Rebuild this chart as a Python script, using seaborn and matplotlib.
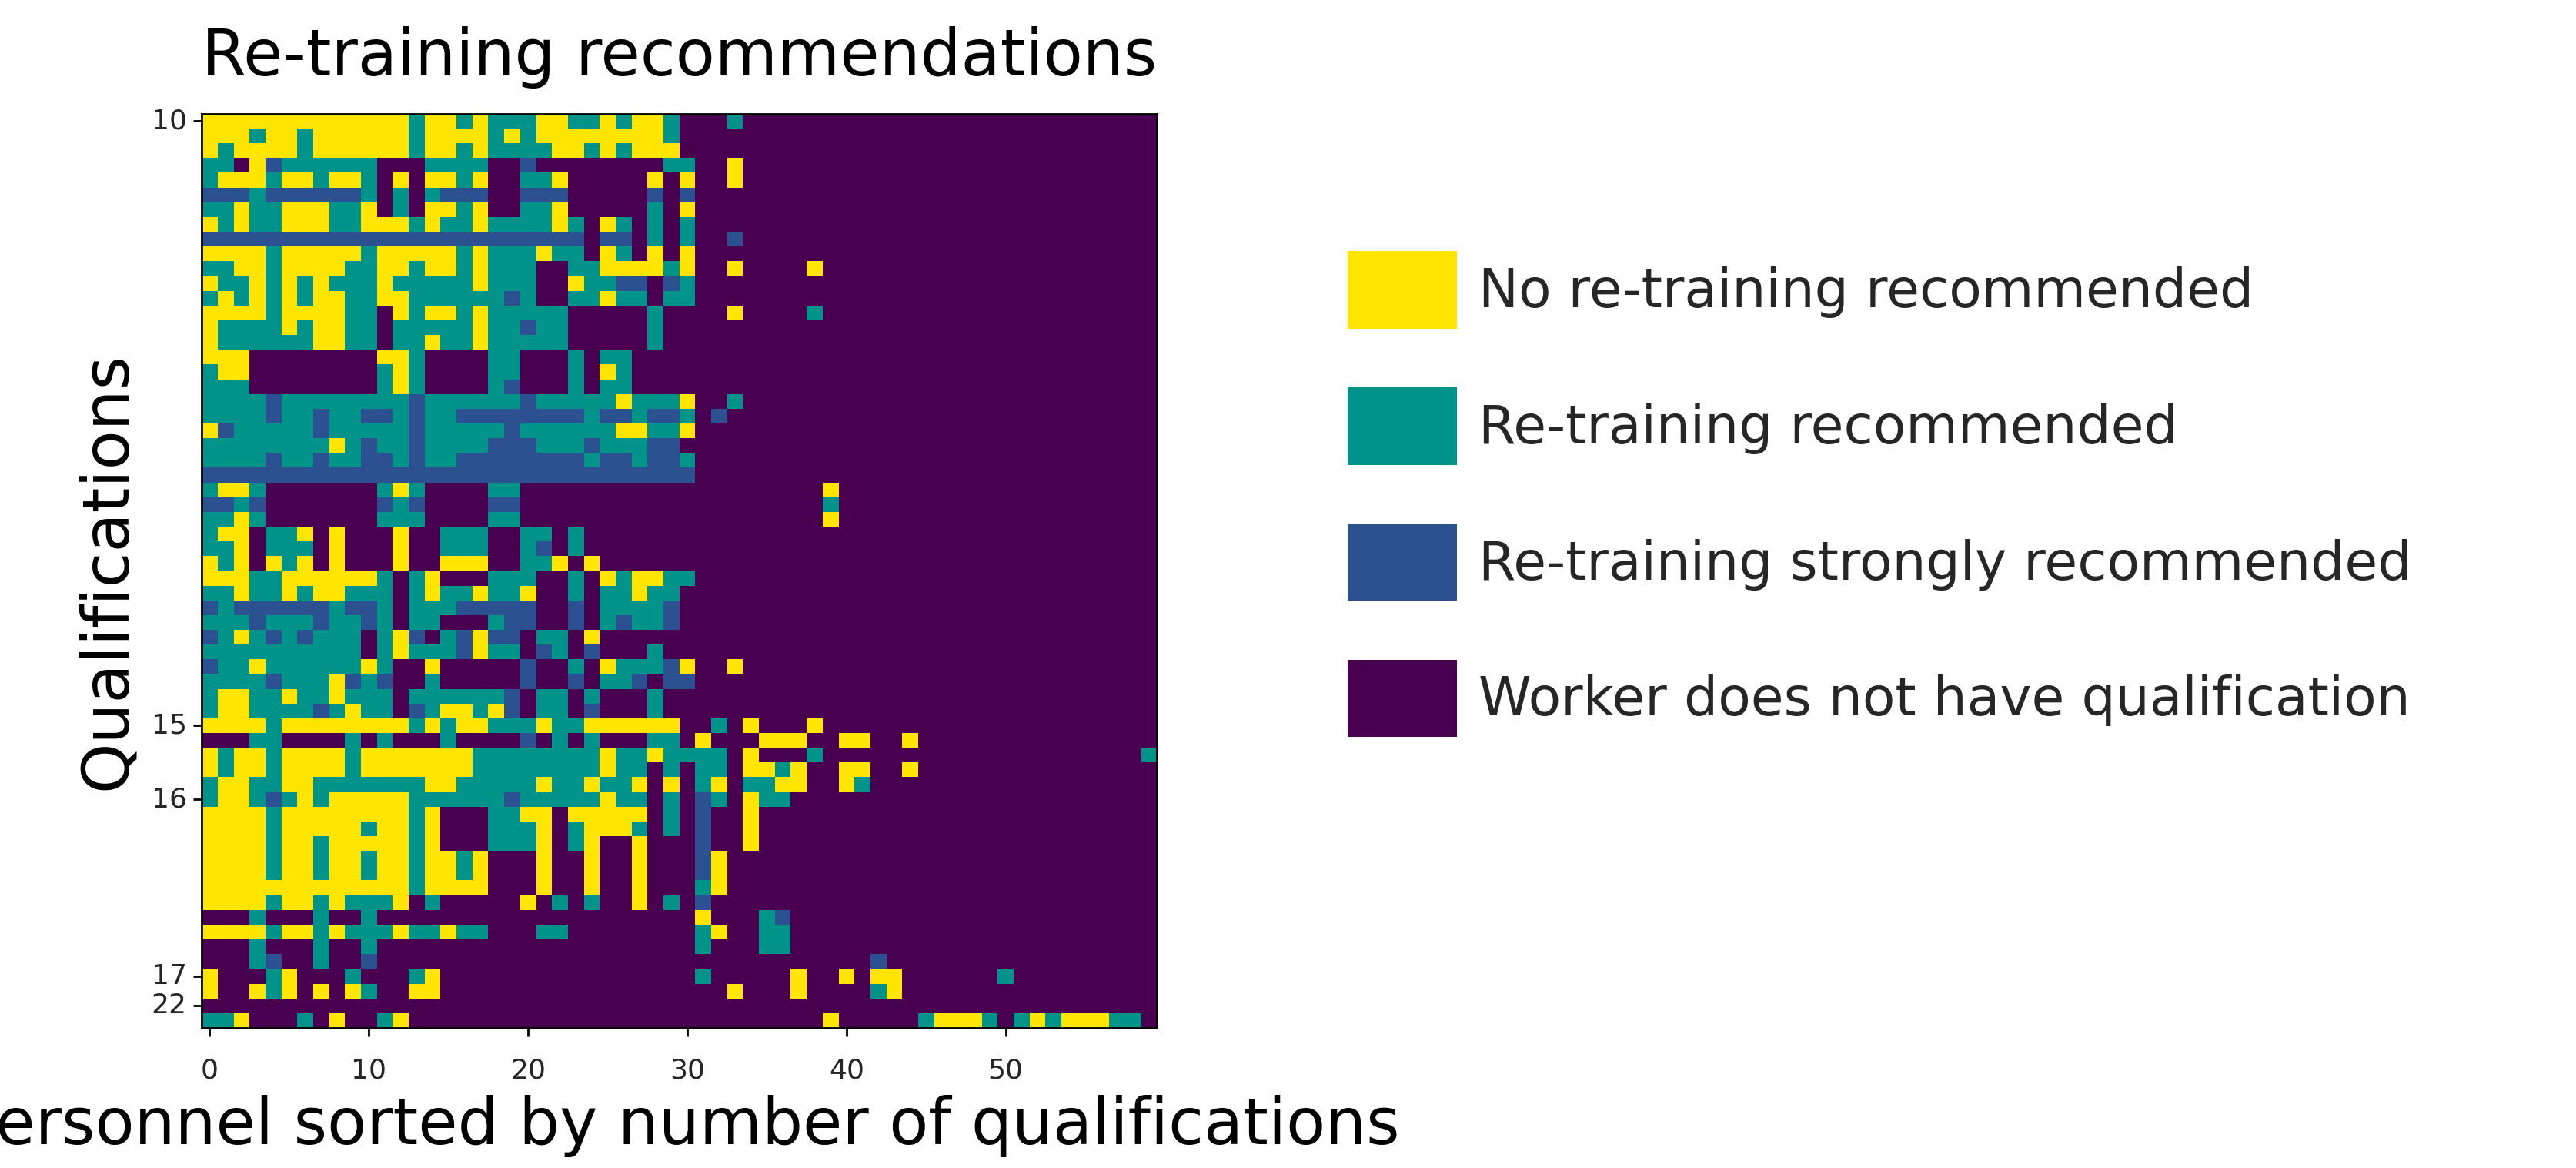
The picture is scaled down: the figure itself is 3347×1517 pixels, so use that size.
import numpy as np
import matplotlib
matplotlib.use("Agg")
import matplotlib.pyplot as plt
from matplotlib.colors import ListedColormap
from matplotlib.patches import Patch
import seaborn as sns

# cell codes: P = no qualification, B = strongly recommended, T = recommended, Y = none
codes = {"P": 0, "B": 1, "T": 2, "Y": 3}
status_labels = ["Worker does not have qualification", "Re-training strongly recommended",
                 "Re-training recommended", "No re-training recommended"]
status_colors = ["#4a0050", "#2b5190", "#00938a", "#ffe500"]

# first 30 personnel, one string per qualification row
left_rows = [
    "YYYYYYYYYYYYYTYYTYTTTYYTTYTYYT",
    "YYYTYYTYYYYYYTYYYYTYTYYYYYYYYT",
    "YTYYYYTYYYYYYTYYTYTTTTYYTYTYYY",
    "TTPYBTTTTTTPPPTTTTPPBPPPPPPPPT",
    "TYYYTYYTYYTPYPYYTYPPTTYPPPPPYP",
    "BBBTBBBBBBTPTPTBBBPPBBBPPPPPBP",
    "TTYTTYYYTTYPTPYYTYPPTTYPPPPPTP",
    "YTYTTYYYTTYYYTYTTYTTTTYTPYTPTP",
    "BBBBBBBBBBBBBBBBBBBBBBBBPBBPTP",
    "YYYYTYYYYYTYYYYYTYTTTYTTPYTPYP",
    "TTYYTYYYYTTYYTYYTYTTTPPTTYYYYT",
    "YTTYTYTYTTTYTTTTTYTTTPPYTTBBPB",
    "TYTYTYTYYTTYYTTTTTTBTPPTTYTTPT",
    "YYYYTYYYYTTPYTYYTYTTTTTPPPPPTP",
    "YTTTTYTYYTTPTTTTTYTTBTTPPPPPTP",
    "YTTTTTTYYTTPTTYTTYTTTTTPPPPPTP",
    "YYYPPPPPPPPYYTPPPPTTPPPTPTTPPP",
    "TYYPPPPPPPPTYTPPPPTTPPPTPYTPPP",
    "TTTPPPPPPPPTYTPPPPTBPPPTPTTPPP",
    "TTTTBTTTTTTTTBTTTTTTBTTTTTYTTT",
    "TTTTBTTBTTBBTBTTBBBBBBBBTBBTBB",
    "YBTTTTTBTTTTTBTTTTTBTTTTTTYYTT",
    "TTTTTTTTYTBTTBTTTTBBBTTTBTTTBB",
    "TTTTBTTBTTBBTBTTBBBBBBBBTBBTBB",
    "BBBBBBBBBBBBBBBBBBBBBBBBBBBBBB",
    "TYYTPPPPPPPTYTPPPPTTPPPPPPPPPP",
    "BBTBPPPPPPPBTBPPPPBBPPPPPPPPPP",
    "TTYTPPPPPPPTTTPPPPTTPPPPPPPPPP",
    "TYYPTTYPYPPPYPPTTTPPTTPTPPPPPP",
    "TTYPTTTPYPPPYPPTTTPPTBPTPPPPPP",
    "YTYPYTYPYPPPYPPYYYPPTTYPYPPPPP",
    "YYYTTYYYYYYTPTYPPPTTTPPTPYTYYT",
    "TTYTTYTYYTTTPTYTTYTTYPPTPTTYTT",
    "BTBBBBBBTBBTPTTTBBBBBPPBPTTTTB",
    "TTTBTTTBTTBTPTTPPPTBBPPBPTBTTB",
    "BTYTBTBTTTPTYBPTBYBBPTTPYPPPPP",
    "TTTTTTTTTTPTYTTTBYTTPBTPBPPPTP",
    "BTTYTTTTTTYTPPYPPPPPBPPTPYTTTB",
    "TTTTBTTTYBTBPPTPPPPPBPPBPTTBPB",
    "TYYTTYTTYTTTPTTTTTTBPTTPTPPPTP",
    "TYYTTTTBTYTTPBTYYTYBPTTPBPPPTP",
    "YYYYTYYYYYYYYTYTYYTTTYTTYYYYYY",
    "PPPTTPPPPTPTPPPTPPPPBPTPTPPPTT",
    "YTYYTYYYYTYYYYYYYTTTTTTTTYTTYT",
    "YTYYTYYYYTYYYYYYYTTTTTTTTYTTPT",
    "TYYTTYYTTTTTTTYYTTTTTYTTYTTYPY",
    "TYYTBTYTYYYYYTTTTTTBTTTTTYTTPT",
    "YYYYTYYYYYYYYTYPPPTTYYPYYYYYPT",
    "YYYYTYYYYYTYYTYPPPTTTYPTYYYTPT",
    "YYYYTYYTYYYYYTYPPPTTTYPTYPPYPP",
    "YYYYTYYTYYTYYTYYTYPPPYPPYPPYPP",
    "YYYYTYYTYYTYYTYYTYPPPYPPYPPYPP",
    "YYYYYYYYYYYYYTYYYYPPPYPPYPPYPP",
    "YYYYTYYTYTTTYPTPPPPPYPTPTPPYPT",
    "PPPTPPPTPPTPPPPPPPPPPPPPPPPPPP",
    "YYYYTYYTYTTTYTTYTTPPPTTPPPPPPP",
    "PPPTPPPTPPTPPPPPPPPPPPPPPPPPPP",
    "PPPTBPPTPPBPPPPPPPPPPPPPPPPPPP",
    "YPPPTYPPPTPPPTYPPPPPPPPPPPPPPP",
    "YPPYTYPYPYTPPYYPPPPPPPPPPPPPPP",
    "PPPPPPPPPPPPPPPPPPPPPPPPPPPPPP",
    "TTYPPPTPYPPTYPPPPPPPPPPPPPPPPP",
]

# personnel 30-59 hold few qualifications: (row, column, code)
right_cells = [
    (0, 33, "T"), (3, 30, "T"), (3, 33, "Y"), (4, 30, "Y"), (4, 33, "Y"),
    (5, 30, "B"), (6, 30, "Y"), (7, 30, "T"), (8, 30, "T"), (8, 33, "B"),
    (9, 30, "Y"), (10, 30, "Y"), (10, 33, "Y"), (10, 38, "Y"), (11, 30, "T"),
    (12, 30, "T"), (13, 33, "Y"), (13, 38, "T"), (19, 30, "Y"), (19, 33, "T"),
    (20, 30, "T"), (20, 32, "B"), (21, 30, "Y"), (23, 30, "T"), (24, 30, "B"),
    (25, 39, "Y"), (26, 39, "T"), (27, 39, "Y"), (31, 30, "T"), (37, 30, "Y"),
    (37, 33, "Y"), (38, 30, "B"),
    (41, 32, "T"), (41, 34, "Y"), (41, 38, "Y"),
    (42, 31, "Y"), (42, 35, "Y"), (42, 36, "Y"), (42, 37, "Y"), (42, 40, "Y"),
    (42, 41, "Y"), (42, 44, "Y"),
    (43, 30, "T"), (43, 31, "T"), (43, 32, "T"), (43, 34, "Y"), (43, 38, "T"),
    (43, 59, "T"),
    (44, 31, "T"), (44, 32, "T"), (44, 34, "Y"), (44, 35, "Y"), (44, 36, "T"),
    (44, 37, "Y"), (44, 40, "Y"), (44, 41, "Y"), (44, 44, "Y"),
    (45, 31, "T"), (45, 32, "Y"), (45, 34, "T"), (45, 35, "T"), (45, 36, "Y"),
    (45, 37, "Y"), (45, 40, "Y"), (45, 41, "T"),
    (46, 31, "B"), (46, 32, "T"), (46, 34, "Y"), (46, 35, "T"), (46, 36, "T"),
    (47, 31, "B"), (47, 34, "Y"), (48, 31, "B"), (48, 34, "Y"),
    (49, 31, "B"), (49, 34, "Y"),
    (50, 31, "B"), (50, 32, "Y"), (51, 31, "B"), (51, 32, "Y"),
    (52, 31, "T"), (52, 32, "Y"), (53, 31, "B"),
    (54, 31, "Y"), (54, 35, "T"), (54, 36, "B"),
    (55, 31, "T"), (55, 32, "Y"), (55, 35, "T"), (55, 36, "T"),
    (56, 31, "T"), (56, 35, "T"), (56, 36, "T"),
    (57, 42, "B"),
    (58, 31, "T"), (58, 37, "Y"), (58, 40, "Y"), (58, 42, "Y"), (58, 43, "Y"),
    (58, 50, "T"),
    (59, 33, "Y"), (59, 37, "Y"), (59, 42, "T"), (59, 43, "Y"),
    (61, 39, "Y"), (61, 45, "T"), (61, 46, "Y"), (61, 47, "Y"), (61, 48, "Y"),
    (61, 49, "T"), (61, 51, "T"), (61, 52, "Y"), (61, 53, "T"), (61, 54, "Y"),
    (61, 55, "Y"), (61, 56, "Y"), (61, 57, "T"), (61, 58, "T"),
]

ytick_rows = [0, 41, 46, 58, 60]
ytick_labels = ["10", "15", "16", "17", "22"]
xtick_cols = [0, 10, 20, 30, 40, 50]

n_cols = 60
grid = np.zeros((len(left_rows), n_cols))
for i, row in enumerate(left_rows):
    for j, ch in enumerate(row):
        grid[i, j] = codes[ch]
for i, j, ch in right_cells:
    grid[i, j] = codes[ch]

sns.set_theme(style="white")
narrow = ["Liberation Sans Narrow", "DejaVu Sans"]
plt.rcParams["font.family"] = narrow

fig = plt.figure(figsize=(33.48, 15.17), dpi=100)
ax = fig.add_axes([0.0783, 0.12, 0.3707, 0.7825])
sns.heatmap(grid, cmap=ListedColormap(status_colors), vmin=-0.5, vmax=3.5,
            cbar=False, ax=ax)

ax.set_xticks([c + 0.5 for c in xtick_cols])
ax.set_xticklabels([str(c) for c in xtick_cols], rotation=0, fontsize=26)
ax.set_yticks([r + 0.5 for r in ytick_rows])
ax.set_yticklabels(ytick_labels, rotation=0, fontsize=26)
ax.tick_params(length=8, width=2, color="black", direction="out",
               bottom=True, left=True, pad=20)
ax.tick_params(axis="y", pad=6)
for s in ax.spines.values():
    s.set_visible(True)
    s.set_color("black")
    s.set_linewidth(2)

ax.set_title("Re-training recommendations", fontsize=60, pad=36, color="black")
ax.set_xlabel("Personnel sorted by number of qualifications", fontsize=60,
              labelpad=10, color="black")
ax.set_ylabel("Qualifications", fontsize=60, labelpad=12, color="black")

order = [3, 2, 1, 0]
handles = [Patch(facecolor=status_colors[k], edgecolor="none") for k in order]
fig.legend(handles, [status_labels[k] for k in order], loc="upper left",
           bbox_to_anchor=(0.523, 0.785), frameon=False,
           prop={"family": ["DejaVu Sans"], "size": 50},
           handlelength=2.05, handleheight=1.85, labelspacing=1.1,
           handletextpad=0.4, borderpad=0, borderaxespad=0)

fig.savefig("out.png", dpi=100)
